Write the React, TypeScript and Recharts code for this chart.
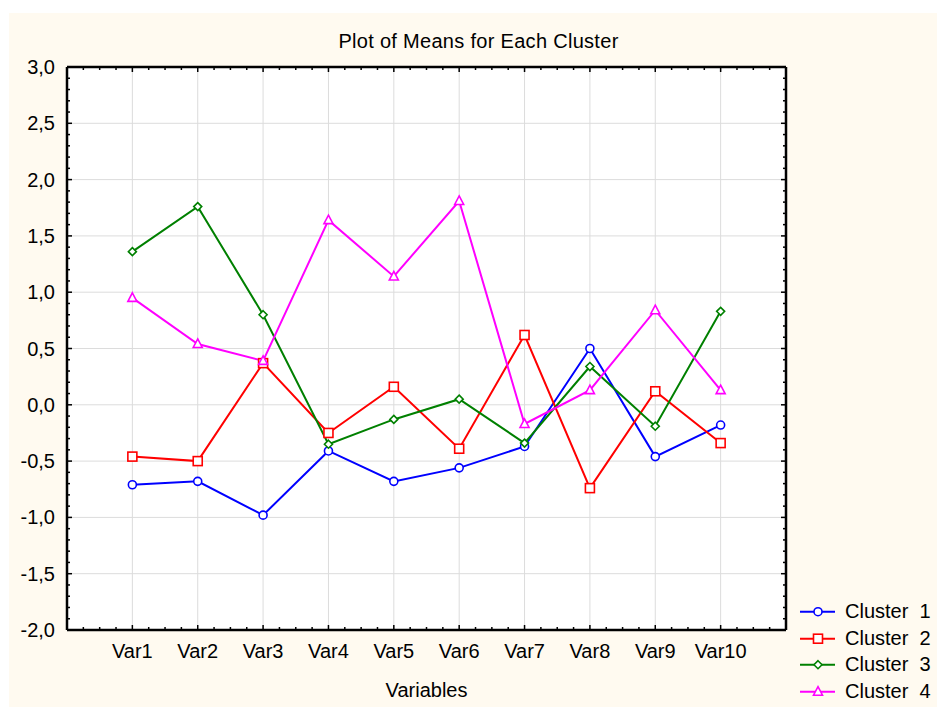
import { CartesianGrid, Line, LineChart, ReferenceLine, XAxis, YAxis } from 'recharts'

const categories = ['Var1', 'Var2', 'Var3', 'Var4', 'Var5', 'Var6', 'Var7', 'Var8', 'Var9', 'Var10']
const cluster1 = [-0.71, -0.68, -0.98, -0.41, -0.68, -0.56, -0.37, 0.5, -0.46, -0.18]
const cluster2 = [-0.46, -0.5, 0.37, -0.25, 0.16, -0.39, 0.62, -0.74, 0.12, -0.34]
const cluster3 = [1.36, 1.76, 0.8, -0.35, -0.13, 0.05, -0.34, 0.34, -0.19, 0.83]
const cluster4 = [0.95, 0.54, 0.39, 1.64, 1.14, 1.81, -0.17, 0.13, 0.84, 0.13]

const yMajorTicks = [-2, -1.5, -1, -0.5, 0, 0.5, 1, 1.5, 2, 2.5, 3]
const yMinorTicks = Array.from({ length: 51 }, (_, i) => Math.round(i - 20) / 10)
const xMinorTicks = Array.from({ length: 45 }, (_, i) => i * 0.25)

const data = categories.map((name, i) => ({
  x: i + 1,
  name,
  c1: cluster1[i],
  c2: cluster2[i],
  c3: cluster3[i],
  c4: cluster4[i],
}))

const FONT = '"Liberation Sans", Arial, sans-serif'
const isMajorY = (v: number) => Math.abs(v * 2 - Math.round(v * 2)) < 1e-6
const isMajorX = (v: number) => Math.abs(v - Math.round(v)) < 1e-6
const fmtY = (v: number) => v.toFixed(1).replace('.', ',')

const LeftTick = (p: any) => {
  const major = isMajorY(p.payload.value)
  return (
    <g>
      <line x1={p.x} x2={p.x + (major ? 5 : 3)} y1={p.y} y2={p.y} stroke="#000" strokeWidth={1.5} />
      {major && (
        <text x={p.x - 12} y={p.y} dy={7} textAnchor="end" fontSize={20} fontFamily={FONT} fill="#000">
          {fmtY(p.payload.value)}
        </text>
      )}
    </g>
  )
}

const RightTick = (p: any) => {
  const major = isMajorY(p.payload.value)
  return <line x1={p.x} x2={p.x - (major ? 5 : 3)} y1={p.y} y2={p.y} stroke="#000" strokeWidth={1.5} />
}

const BottomTick = (p: any) => {
  const v = p.payload.value
  const major = isMajorX(v)
  const label = major && v >= 1 && v <= 10 ? categories[Math.round(v) - 1] : null
  return (
    <g>
      <line x1={p.x} x2={p.x} y1={p.y} y2={p.y - (major ? 5 : 3)} stroke="#000" strokeWidth={1.5} />
      {label && (
        <text x={p.x} y={p.y + 28} textAnchor="middle" fontSize={20} fontFamily={FONT} fill="#000">
          {label}
        </text>
      )}
    </g>
  )
}

const TopTick = (p: any) => {
  const major = isMajorX(p.payload.value)
  return <line x1={p.x} x2={p.x} y1={p.y} y2={p.y + (major ? 5 : 3)} stroke="#000" strokeWidth={1.5} />
}

const Circle = ({ cx, cy, color }: any) => (
  <circle cx={cx} cy={cy} r={4} fill="#fff" stroke={color} strokeWidth={1.6} />
)
const Square = ({ cx, cy, color }: any) => (
  <rect x={cx - 4.5} y={cy - 4.5} width={9} height={9} fill="#fff" stroke={color} strokeWidth={1.6} />
)
const Diamond = ({ cx, cy, color }: any) => (
  <polygon
    points={`${cx},${cy - 4} ${cx + 4},${cy} ${cx},${cy + 4} ${cx - 4},${cy}`}
    fill="#fff"
    stroke={color}
    strokeWidth={1.6}
  />
)
const Triangle = ({ cx, cy, color }: any) => (
  <polygon
    points={`${cx},${cy - 5} ${cx + 4.5},${cy + 3.5} ${cx - 4.5},${cy + 3.5}`}
    fill="#fff"
    stroke={color}
    strokeWidth={1.6}
  />
)

const series = [
  { key: 'c1', name: 'Cluster  1', color: '#0000ff', Marker: Circle },
  { key: 'c2', name: 'Cluster  2', color: '#ff0000', Marker: Square },
  { key: 'c3', name: 'Cluster  3', color: '#008000', Marker: Diamond },
  { key: 'c4', name: 'Cluster  4', color: '#ff00ff', Marker: Triangle },
]

export default function App() {
  return (
    <div style={{ position: 'absolute', left: 0, top: 0, width: 937, height: 707, fontFamily: FONT }}>
      <div style={{ position: 'absolute', left: 9, top: 13, width: 928, height: 694, background: '#fffaf0' }}>
        <LineChart
          width={928}
          height={694}
          data={data}
          margin={{ top: 53, right: 150, bottom: 0, left: 8 }}
        >
          <CartesianGrid fill="#ffffff" fillOpacity={1} horizontal={false} vertical={false} stroke="none" />
          <XAxis
            dataKey="x"
            type="number"
            domain={[0, 11]}
            ticks={xMinorTicks}
            interval={0}
            allowDataOverflow
            height={77}
            tickSize={0}
            tickMargin={0}
            tickLine={false}
            tick={BottomTick}
            axisLine={{ stroke: '#000', strokeWidth: 2.5 }}
            label={{ value: 'Variables', position: 'insideBottom', offset: 10, fontSize: 20, fill: '#000', fontFamily: FONT }}
          />
          <XAxis
            xAxisId="top"
            orientation="top"
            dataKey="x"
            type="number"
            domain={[0, 11]}
            ticks={xMinorTicks}
            interval={0}
            allowDataOverflow
            height={1}
            tickSize={0}
            tickMargin={0}
            tickLine={false}
            tick={TopTick}
            axisLine={{ stroke: '#000', strokeWidth: 2.5 }}
          />
          <YAxis
            type="number"
            domain={[-2, 3]}
            ticks={yMinorTicks}
            interval={0}
            allowDataOverflow
            width={50}
            tickSize={0}
            tickMargin={0}
            tickLine={false}
            tick={LeftTick}
            axisLine={{ stroke: '#000', strokeWidth: 2.5 }}
          />
          <YAxis
            yAxisId="right"
            orientation="right"
            type="number"
            domain={[-2, 3]}
            ticks={yMinorTicks}
            interval={0}
            allowDataOverflow
            width={1}
            tickSize={0}
            tickMargin={0}
            tickLine={false}
            tick={RightTick}
            axisLine={{ stroke: '#000', strokeWidth: 2.5 }}
          />
          {yMajorTicks.slice(1, -1).map((v) => (
            <ReferenceLine key={`h${v}`} y={v} stroke="#dcdcdc" strokeWidth={1} />
          ))}
          {categories.map((c, i) => (
            <ReferenceLine key={`v${c}`} x={i + 1} stroke="#dcdcdc" strokeWidth={1} />
          ))}
          <Line
            xAxisId="top"
            yAxisId="right"
            dataKey="c1"
            stroke="none"
            dot={false}
            activeDot={false}
            legendType="none"
            isAnimationActive={false}
          />
          {series.map((s) => (
            <Line
              key={s.key}
              type="linear"
              dataKey={s.key}
              name={s.name}
              stroke={s.color}
              strokeWidth={2}
              dot={(p: any) => <s.Marker key={`${s.key}-${p.index}`} cx={p.cx} cy={p.cy} color={s.color} />}
              activeDot={false}
              isAnimationActive={false}
            />
          ))}
        </LineChart>
      </div>
      <div
        style={{
          position: 'absolute',
          left: 0,
          width: 957,
          top: 31,
          textAlign: 'center',
          fontSize: 20,
          lineHeight: '20px',
          letterSpacing: 0.3,
          color: '#000',
        }}
      >
        Plot of Means for Each Cluster
      </div>
      <div style={{ position: 'absolute', left: 800, top: 598 }}>
        {series.map((s) => (
          <div key={s.key} style={{ display: 'flex', alignItems: 'flex-start', height: 26.7 }}>
            <svg width={45} height={26.7} style={{ display: 'block' }}>
              <line x1={0} x2={35} y1={13.7} y2={13.7} stroke={s.color} strokeWidth={2} />
              <s.Marker cx={18} cy={13.7} color={s.color} />
            </svg>
            <span style={{ fontSize: 20, lineHeight: '26.7px', whiteSpace: 'pre', color: '#000' }}>{s.name}</span>
          </div>
        ))}
      </div>
    </div>
  )
}
